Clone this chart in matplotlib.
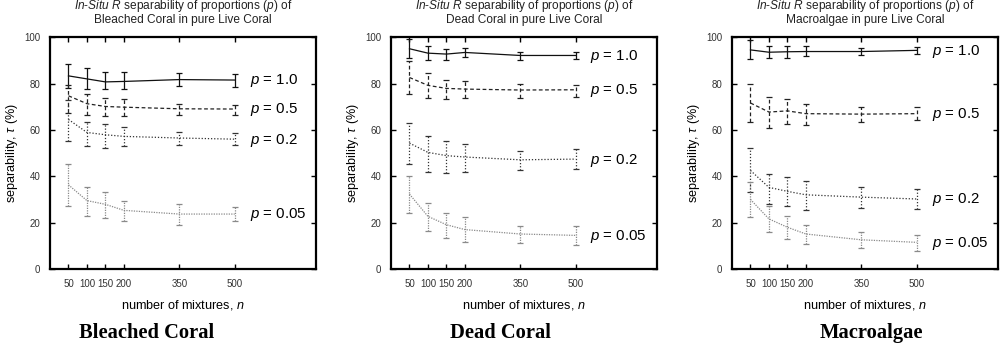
import matplotlib
matplotlib.use("Agg")
import matplotlib.pyplot as plt

plt.rcParams['font.family'] = ['Liberation Sans', 'DejaVu Sans']
plt.rcParams['mathtext.fontset'] = 'custom'
plt.rcParams['mathtext.rm'] = 'Liberation Sans'
plt.rcParams['mathtext.it'] = 'Liberation Sans:italic'

# number of mixtures
n_values = [50, 100, 150, 200, 350, 500]
p_labels = ['1.0', '0.5', '0.2', '0.05']

# Bleached Coral: mean, lower, upper for p = 1.0, 0.5, 0.2, 0.05
bleached_mean = [
    [83.3, 82.0, 80.7, 80.9, 81.7, 81.5],
    [74.7, 71.3, 70.1, 69.8, 69.1, 69.0],
    [64.5, 58.9, 57.9, 57.2, 56.5, 56.0],
    [36.3, 29.5, 27.9, 25.3, 23.7, 23.7],
]
bleached_lo = [
    [78.0, 77.6, 77.6, 77.6, 79.0, 78.4],
    [67.5, 66.5, 66.1, 66.0, 66.4, 66.4],
    [55.0, 53.2, 52.4, 52.9, 53.3, 53.3],
    [27.3, 23.0, 22.0, 20.5, 19.1, 20.5],
]
bleached_hi = [
    [88.5, 86.6, 84.8, 84.8, 84.5, 84.0],
    [79.5, 75.4, 73.7, 73.4, 71.3, 70.8],
    [73.0, 63.6, 62.6, 61.2, 59.0, 58.6],
    [45.3, 35.2, 33.0, 29.2, 28.0, 26.6],
]

# Dead Coral
dead_mean = [
    [95.0, 93.1, 92.7, 93.4, 92.1, 92.1],
    [82.6, 79.2, 77.9, 77.6, 77.2, 77.3],
    [54.3, 50.3, 48.9, 48.3, 47.1, 47.4],
    [32.3, 22.7, 19.1, 17.0, 15.1, 14.5],
]
dead_lo = [
    [91.0, 90.0, 90.0, 91.4, 90.2, 90.5],
    [75.4, 73.7, 73.4, 73.7, 73.7, 74.4],
    [45.4, 41.8, 41.4, 41.8, 42.5, 43.1],
    [24.1, 16.2, 13.4, 11.5, 11.2, 10.5],
]
dead_hi = [
    [99.0, 96.3, 95.0, 95.3, 93.8, 93.8],
    [89.5, 84.5, 81.6, 80.9, 79.9, 79.5],
    [62.9, 57.2, 55.0, 53.9, 51.0, 51.9],
    [40.2, 28.4, 24.1, 22.4, 18.7, 18.7],
]

# Macroalgae
macro_mean = [
    [94.5, 93.5, 93.7, 93.8, 93.8, 94.3],
    [71.6, 67.7, 68.2, 67.0, 66.8, 67.0],
    [42.5, 35.2, 33.5, 32.0, 31.0, 30.2],
    [30.0, 21.6, 18.0, 15.1, 12.6, 11.5],
]
macro_lo = [
    [90.5, 91.2, 91.0, 91.7, 92.1, 92.8],
    [63.2, 60.8, 62.6, 62.2, 63.2, 64.1],
    [33.2, 28.2, 27.0, 25.6, 26.3, 25.9],
    [22.4, 15.8, 12.9, 10.8, 9.1, 7.6],
]
macro_hi = [
    [98.9, 96.0, 96.3, 96.0, 95.5, 95.7],
    [79.7, 74.0, 73.3, 71.1, 69.8, 69.8],
    [52.4, 41.1, 39.7, 38.0, 35.2, 34.5],
    [37.4, 27.0, 22.7, 19.1, 16.0, 14.5],
]

panel_names = ['Bleached Coral', 'Dead Coral', 'Macroalgae']
panel_data = [
    (bleached_mean, bleached_lo, bleached_hi),
    (dead_mean, dead_lo, dead_hi),
    (macro_mean, macro_lo, macro_hi),
]

line_styles = ['-', (0, (3, 2)), (0, (1, 1.5)), (0, (1, 1))]
line_colors = ['#111111', '#222222', '#333333', '#8a8a8a']

fig = plt.figure(figsize=(10, 3.44), dpi=100)
axes_left = [0.050, 0.391, 0.732]
name_x = [0.147, 0.500, 0.871]

for k in range(3):
    ax = fig.add_axes([axes_left[k], 0.218, 0.266, 0.674])
    mean, lo, hi = panel_data[k]
    for i in range(4):
        yerr = [[m - l for m, l in zip(mean[i], lo[i])],
                [h - m for m, h in zip(mean[i], hi[i])]]
        eb = ax.errorbar(n_values, mean[i], yerr=yerr, color=line_colors[i],
                         linestyle=line_styles[i], linewidth=0.9,
                         elinewidth=0.9, capsize=2.0, capthick=0.9)
        eb[2][0].set_linestyle(line_styles[i])
        ax.text(540, mean[i][-1] - 0.4, r'$\mathit{p}$ = ' + p_labels[i],
                fontsize=10.8, va='center', ha='left')

    ax.set_xlim(0, 720)
    ax.set_ylim(0, 100)
    ax.set_xticks(n_values)
    ax.set_yticks([0, 20, 40, 60, 80, 100])
    ax.tick_params(direction='in', top=True, right=True, length=3.5, width=1,
                   labelsize=7, labelcolor='#333333', pad=7)
    for s in ax.spines.values():
        s.set_linewidth(1.6)

    cx = axes_left[k] + 0.133
    fig.text(cx, 1 - 9.5 / 344,
             r'$\mathit{In}$-$\mathit{Situ\ R}$ separability of proportions ($\mathit{p}$) of',
             fontsize=8.6, color='#222222', ha='center', va='baseline')
    fig.text(cx, 1 - 23.5 / 344, panel_names[k] + ' in pure Live Coral',
             fontsize=8.6, color='#222222', ha='center', va='baseline')
    ax.set_xlabel(r'number of mixtures, $\mathit{n}$', fontsize=9.1, labelpad=7)
    ax.set_ylabel(r'separability, $\tau$ (%)', fontsize=9.1, labelpad=3)

    fig.text(name_x[k], 0.018, panel_names[k], fontsize=14.8, fontweight='bold',
             family='Liberation Serif', ha='center', va='baseline')

fig.savefig('out.png', dpi=100)
